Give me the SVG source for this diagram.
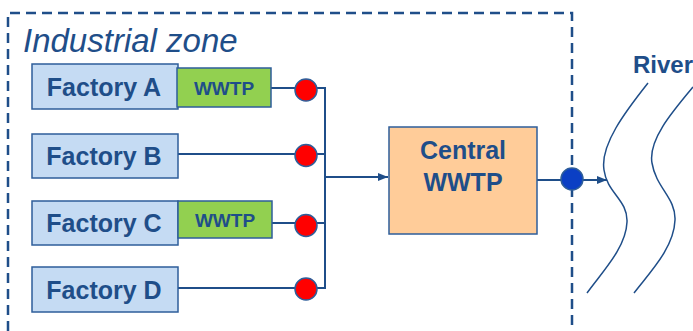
<svg xmlns="http://www.w3.org/2000/svg" width="693" height="331" viewBox="0 0 693 331">
<style>
.fac{fill:#C5DBF3;stroke:#2E5E9A;stroke-width:1.5}
.ww{fill:#92D050;stroke:#2E5E9A;stroke-width:1.5}
.cen{fill:#FFCC99;stroke:#2E5E9A;stroke-width:1.5}
.t{font-family:"Liberation Sans",Arial,sans-serif;font-weight:bold;fill:#1F4E89;text-anchor:middle}
.ln{stroke:#1F4E89;stroke-width:2;fill:none}
.red{fill:#FF0000;stroke:#2E5E9A;stroke-width:1.5}
.river{stroke:#1F4E89;stroke-width:1.5;fill:none}
</style>
<defs>
<marker id="arr" viewBox="0 0 10 10" refX="10" refY="5" markerWidth="10" markerHeight="10" markerUnits="userSpaceOnUse" orient="auto">
<path d="M0,1 L10,5 L0,9 Z" fill="#1F4E89"/>
</marker>
</defs>
<rect width="693" height="331" fill="#FFFFFF"/>
<path d="M8,331 L8,13 L572,13 L572,331" fill="none" stroke="#1F4E89" stroke-width="2.5" stroke-dasharray="10,6"/>
<text x="23" y="52" font-family="'Liberation Sans',Arial,sans-serif" font-style="italic" font-size="33" fill="#1F4E89">Industrial zone</text>
<g id="connectors">
<path class="ln" d="M271,88 L325,88 M178,154 L325,154 M272,223 L325,223 M178,288 L325,288 M325,87 L325,289"/>
<path class="ln" d="M325,177 L388,177" marker-end="url(#arr)"/>
<path class="ln" d="M537,180 L607,180" marker-end="url(#arr)"/>
</g>
<g id="factoryA"><rect class="fac" x="32" y="64" width="146" height="45"/><text class="t" x="104" y="96" font-size="25">Factory A</text></g>
<g id="wwtpA"><rect class="ww" x="177" y="68" width="94" height="39"/><text class="t" x="224" y="95" font-size="19">WWTP</text></g>
<g id="factoryB"><rect class="fac" x="32" y="134" width="146" height="44"/><text class="t" x="104" y="165" font-size="25">Factory B</text></g>
<g id="factoryC"><rect class="fac" x="32" y="201" width="146" height="44"/><text class="t" x="104" y="232" font-size="25">Factory C</text></g>
<g id="wwtpC"><rect class="ww" x="178" y="201" width="94" height="37"/><text class="t" x="225" y="227" font-size="19">WWTP</text></g>
<g id="factoryD"><rect class="fac" x="32" y="267" width="146" height="45"/><text class="t" x="104" y="299" font-size="25">Factory D</text></g>
<g id="pointA"><circle class="red" cx="306" cy="90" r="11"/></g>
<g id="pointB"><circle class="red" cx="306" cy="155.5" r="11"/></g>
<g id="pointC"><circle class="red" cx="306" cy="225.5" r="11"/></g>
<g id="pointD"><circle class="red" cx="306" cy="289" r="11"/></g>
<g id="central"><rect class="cen" x="389" y="127" width="148" height="107"/><text class="t" x="463" y="159" font-size="25">Central</text><text class="t" x="463" y="191" font-size="25">WWTP</text></g>
<g id="outlet"><circle cx="572" cy="179" r="11" fill="#0B3FC4" stroke="#2E5E9A" stroke-width="1.5"/></g>
<g id="river">
<path class="river" d="M648,83 C625,112 600,145 604,170 C607,193 628,200 627,222 C626,248 602,272 587,293"/>
<path class="river" d="M693,87 C672,112 648,140 652,163 C656,188 676,198 675,220 C674,248 650,272 634,293"/>
<text class="t" x="633" y="73" font-size="24" style="text-anchor:start">River</text>
</g>
</svg>
